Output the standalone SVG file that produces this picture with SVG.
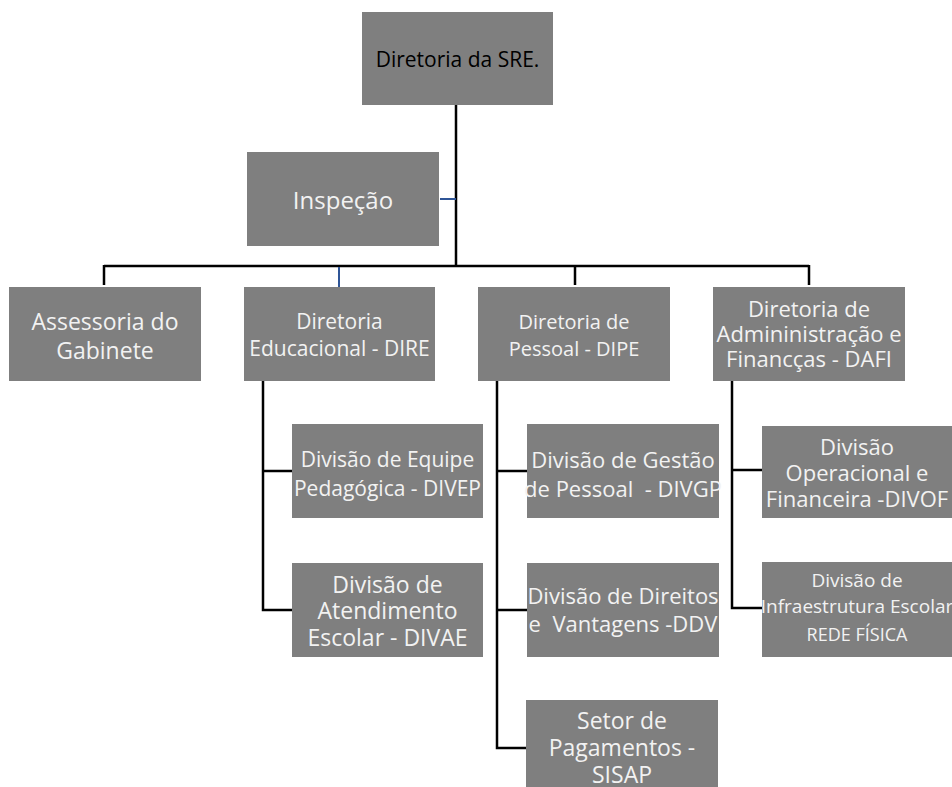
<svg xmlns="http://www.w3.org/2000/svg" width="952" height="787" viewBox="0 0 952 787">
<style>
.box{fill:#7f7f7f;}
text{font-family:"Open Sans","Noto Sans",sans-serif;text-anchor:middle;dominant-baseline:central;fill:#f2f2f2;font-size:21px;white-space:pre;}
.dark{fill:#000;font-size:21px;}
.big{font-size:24px;}
.f23{font-size:23px;}
.f22{font-size:22px;}
.f20{font-size:20px;}
.sm{font-size:19px;}
.xs{font-size:18px;}
.k{stroke:#000;stroke-width:2.5;fill:none;}
.b{stroke:#2f5597;stroke-width:2;fill:none;}
</style>
<g id="connectors">
<path class="k" d="M456,104 V266 M104,266 H809 M104,265 V285 M575,265 V285 M809,265 V285"/>
<path class="b" d="M440,199 H456 M339,267 V287"/>
<path class="k" d="M263,381 V610 H292 M263,471 H292"/>
<path class="k" d="M497,381 V748 H526 M497,471 H527 M497,610 H527"/>
<path class="k" d="M732,381 V608 H762 M732,470 H762"/>
</g>
<g id="n-sre"><rect class="box" x="362" y="12" width="191" height="93"/><text class="dark" x="457.5" y="59">Diretoria da SRE.</text></g>
<g id="n-inspecao"><rect class="box" x="247" y="152" width="192" height="94"/><text class="big" x="343" y="199">Inspeção</text></g>
<g id="n-assessoria"><rect class="box" x="9" y="287" width="192" height="94"/><text class="f23" x="105" y="321">Assessoria do</text><text class="f23" x="105" y="350">Gabinete</text></g>
<g id="n-dire"><rect class="box" x="244" y="287" width="191" height="94"/><text x="339.5" y="321">Diretoria</text><text x="339.5" y="348">Educacional - DIRE</text></g>
<g id="n-dipe"><rect class="box" x="478" y="287" width="192" height="94"/><text class="f20" x="574" y="321">Diretoria de</text><text class="f20" x="574" y="348">Pessoal - DIPE</text></g>
<g id="n-dafi"><rect class="box" x="713" y="287" width="192" height="94"/><text class="f22" x="809" y="308">Diretoria de</text><text class="f22" x="809" y="333">Admininistração e</text><text class="f22" x="809" y="358">Financças - DAFI</text></g>
<g id="n-divep"><rect class="box" x="292" y="424" width="191" height="94"/><text x="387.5" y="459">Divisão de Equipe</text><text x="387.5" y="488">Pedagógica - DIVEP</text></g>
<g id="n-divae"><rect class="box" x="292" y="563" width="191" height="94"/><text class="f23" x="387.5" y="584">Divisão de</text><text class="f23" x="387.5" y="610">Atendimento</text><text class="f23" x="387.5" y="637">Escolar - DIVAE</text></g>
<g id="n-divgp"><rect class="box" x="527" y="424" width="192" height="94"/><text class="f22" x="623" y="459">Divisão de Gestão</text><text class="f22" x="623" y="488">de Pessoal  - DIVGP</text></g>
<g id="n-ddv"><rect class="box" x="527" y="563" width="192" height="94"/><text class="f22" x="623" y="595">Divisão de Direitos</text><text class="f22" x="623" y="623">e  Vantagens -DDV</text></g>
<g id="n-sisap"><rect class="box" x="526" y="700" width="192" height="94"/><text class="f23" x="622" y="720">Setor de</text><text class="f23" x="622" y="747">Pagamentos -</text><text class="f23" x="622" y="774">SISAP</text></g>
<g id="n-divof"><rect class="box" x="762" y="426" width="190" height="92"/><text class="f22" x="857" y="446">Divisão</text><text class="f22" x="857" y="472">Operacional e</text><text class="f22" x="857" y="498">Financeira -DIVOF</text></g>
<g id="n-infra"><rect class="box" x="762" y="562" width="190" height="95"/><text class="sm" x="857" y="580">Divisão de</text><text class="sm" x="857" y="606">Infraestrutura Escolar</text><text class="xs" x="857" y="634">REDE FÍSICA</text></g>
</svg>
